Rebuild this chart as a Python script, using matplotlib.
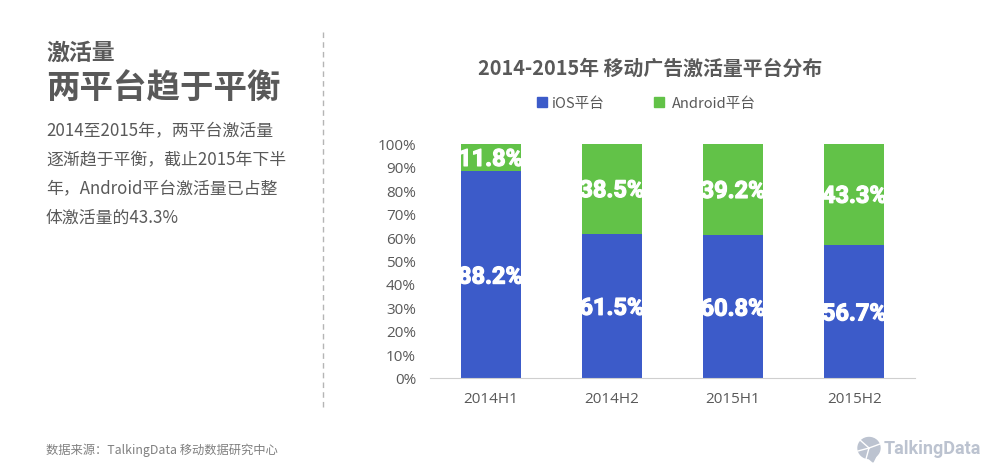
import matplotlib

matplotlib.use("Agg")
import matplotlib.pyplot as plt
import matplotlib.patheffects as pe
from matplotlib.lines import Line2D
from matplotlib.patches import Ellipse, Polygon, Rectangle

plt.rcParams["font.family"] = ["Noto Sans CJK SC", "DejaVu Sans"]

periods = ["2014H1", "2014H2", "2015H1", "2015H2"]
ios_share = [88.2, 61.5, 60.8, 56.7]
android_share = [11.8, 38.5, 39.2, 43.3]
ios_labels = ["88.2%", "61.5%", "60.8%", "56.7%"]
android_labels = ["11.8%", "38.5%", "39.2%", "43.3%"]
y_ticks = [0, 10, 20, 30, 40, 50, 60, 70, 80, 90, 100]

BLUE = "#3c5bc9"
GREEN = "#62c248"
GREY = "#595959"
LOGO = "#bcc3d0"
W, H = 1000, 477


def px(x, y):
    return x / W, 1 - y / H


fig = plt.figure(figsize=(10, 4.77), dpi=100, facecolor="white")

# left text column
fig.text(*px(46, 53), "激活量", fontsize=16.5, fontweight="bold", color=GREY, va="center")
fig.text(*px(46, 88), "两平台趋于平衡", fontsize=24.1, fontweight="bold", color=GREY, va="center")
body = ["2014至2015年，两平台激活量", "逐渐趋于平衡，截止2015年下半",
        "年，Android平台激活量已占整", "体激活量的43.3%"]
for line, y in zip(body, [131, 160, 189, 218]):
    fig.text(*px(46, y), line, fontsize=12.15, color=GREY, va="center")

fig.add_artist(Line2D([0.323, 0.323], [1 - 33 / H, 1 - 410 / H], color="#b5b5b5",
                      lw=1, ls=(0, (4, 3)), transform=fig.transFigure))

fig.text(*px(650, 68), "2014-2015年 移动广告激活量平台分布", fontsize=14.3, fontweight="bold",
         color=GREY, ha="center", va="center")

# legend
fig.add_artist(Rectangle(px(537, 108), 10 / W, 10 / H, color=BLUE, transform=fig.transFigure))
fig.text(*px(552, 104), "iOS平台", fontsize=10.5, color=GREY, va="center")
fig.add_artist(Rectangle(px(654, 108), 10 / W, 10 / H, color=GREEN, transform=fig.transFigure))
fig.text(*px(672, 104), "Android平台", fontsize=10.5, color=GREY, va="center")

# stacked bars
ax = fig.add_axes([0.430, 1 - 378.5 / H, 0.485, 234 / H])
xs = range(len(periods))
ax.bar(xs, ios_share, width=0.495, color=BLUE)
ax.bar(xs, android_share, width=0.495, bottom=ios_share, color=GREEN)
heavy = [pe.withStroke(linewidth=0.9, foreground="white")]
for i in xs:
    ax.annotate(ios_labels[i], (i, ios_share[i] / 2), xytext=(0, -2), textcoords="offset points",
                color="white", fontsize=17, fontweight="bold", ha="center", va="center",
                family="Roboto", path_effects=heavy)
    ax.annotate(android_labels[i], (i, ios_share[i] + android_share[i] / 2), xytext=(0, -1.5),
                textcoords="offset points", color="white", fontsize=17, fontweight="bold",
                ha="center", va="center", family="Roboto", path_effects=heavy)

ax.set_xlim(-0.5, 3.5)
ax.set_ylim(0, 100)
ax.set_xticks(list(xs), periods)
ax.set_yticks(y_ticks, [f"{v}%" for v in y_ticks])
ax.tick_params(axis="both", length=0, labelsize=11, labelcolor=GREY)
ax.tick_params(axis="x", pad=10)
ax.tick_params(axis="y", pad=10)
for label in ax.get_xticklabels() + ax.get_yticklabels():
    label.set_family("Open Sans")
for side in ["top", "left", "right"]:
    ax.spines[side].set_visible(False)
ax.spines["bottom"].set_color("#cfcfcf")

# footer
fig.text(*px(46, 450), "数据来源：TalkingData 移动数据研究中心", fontsize=8.85, color="#808080", va="center")

# logo: speech bubble with spokes, then the name
fig.add_artist(Ellipse(px(869, 449), 22 / W, 21 / H, color=LOGO, transform=fig.transFigure))
fig.add_artist(Polygon([px(866, 457), px(876, 457), px(873, 463)], color=LOGO, transform=fig.transFigure))
for x1, y1 in [(860, 441), (880, 445), (866, 460), (858, 452)]:
    x_a, y_a = px(869, 449)
    x_b, y_b = px(x1, y1)
    fig.add_artist(Line2D([x_a, x_b], [y_a, y_b], color="white", lw=1, transform=fig.transFigure))
fig.text(*px(884, 449), "TalkingData", fontsize=13, fontweight="bold", color=LOGO,
         va="center", family="Roboto")

fig.savefig("out.png", dpi=100)
